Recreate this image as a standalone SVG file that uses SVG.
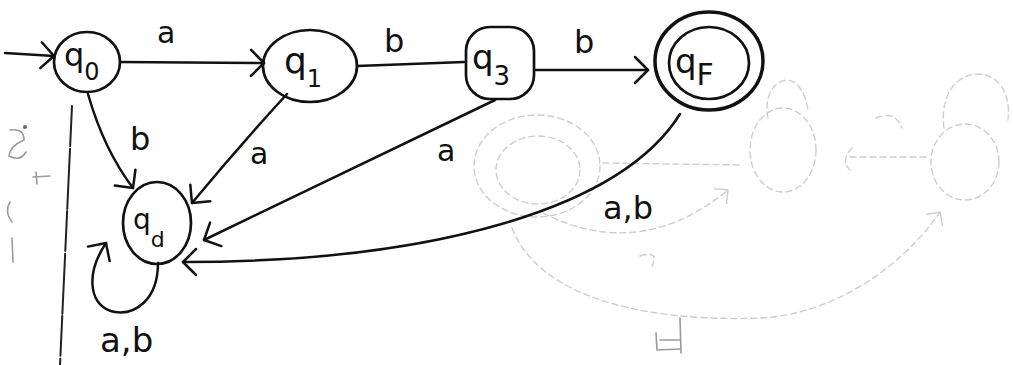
<svg xmlns="http://www.w3.org/2000/svg" width="1013" height="365" viewBox="0 0 1013 365">
<style>
.st{fill:none;stroke:#111;stroke-width:2.7;stroke-linecap:round;stroke-linejoin:round}
.thick{stroke-width:3.5}
.edge{fill:none;stroke:#111;stroke-width:2.5;stroke-linecap:round}
.lbl{font-family:"DejaVu Sans","Liberation Sans",sans-serif;fill:#111}
.ghost{fill:none;stroke:#cdcdcd;stroke-width:1.4;stroke-dasharray:6 4;stroke-linecap:round}
.mark{fill:none;stroke:#9a9a9a;stroke-width:1.6;stroke-linecap:round}
</style>
<defs>
<marker id="v" markerUnits="userSpaceOnUse" markerWidth="30" markerHeight="30" refX="0" refY="0" viewBox="-16 -15 18 30" orient="auto" overflow="visible">
<path d="M-13,-13 L0,0 L-13,13" fill="none" stroke="#111" stroke-width="2.5" stroke-linecap="round" stroke-linejoin="round"/>
</marker>
<marker id="gv" markerUnits="userSpaceOnUse" markerWidth="24" markerHeight="24" refX="0" refY="0" viewBox="-12 -12 14 24" orient="auto" overflow="visible">
<path d="M-10,-10 L0,0 L-10,10" fill="none" stroke="#cdcdcd" stroke-width="1.4"/>
</marker>
</defs>
<rect width="1013" height="365" fill="#ffffff"/>

<!-- faint show-through from the back of the page -->
<g id="ghost">
<ellipse class="ghost" cx="537" cy="166" rx="63" ry="51"/>
<ellipse class="ghost" cx="538" cy="170" rx="42" ry="34"/>
<path class="ghost" d="M543 213 Q 640 262 728 190" marker-end="url(#gv)"/>
<path class="ghost" d="M512 228 C 540 300, 650 322, 760 318 C 830 315, 900 270, 940 212" marker-end="url(#gv)"/>
<path class="ghost" d="M603 163 L 742 165"/>
<ellipse class="ghost" cx="783" cy="150" rx="33" ry="42"/>
<path class="ghost" d="M768 118 C 760 80, 800 60, 808 110"/>
<ellipse class="ghost" cx="965" cy="162" rx="34" ry="38"/>
<path class="ghost" d="M944 128 C 935 60, 1015 55, 1008 120"/>
<path class="ghost" d="M850 157 L 930 157"/>
<path class="ghost" d="M852 148 Q 840 160 850 170"/>
<path class="ghost" d="M876 118 Q 895 110 902 128"/>
<path class="ghost" d="M640 256 Q 660 250 652 266"/>
</g>

<g id="margin">
<path d="M72 106 L 60 365" fill="none" stroke="#222" stroke-width="2" stroke-linecap="round" stroke-dasharray="40 3 60 2"/>
<path class="mark" d="M10 130 Q 24 128 24 140 Q 10 146 9 156 Q 20 162 26 152"/>
<circle cx="25" cy="127" r="2" fill="#666"/>
<path class="mark" d="M33 177 L 50 176 M 36 172 L 37 184"/>
<path class="mark" d="M10 202 Q 4 212 12 222"/>
<path class="mark" d="M12 238 L 13 262"/>
<path class="mark" d="M656 333 L 657 350 L 680 349 M 680 318 L 681 353 M 660 340 L 680 340"/>
</g>

<g id="edges">
<path class="edge" d="M5 53 L 54 56" marker-end="url(#v)"/>
<path class="edge" d="M120 62 L 264 63" marker-end="url(#v)"/>
<path class="edge" d="M357 66 L 464 62"/>
<path class="edge" d="M535 70 L 648 70" marker-end="url(#v)"/>
<path class="edge" d="M88 94 Q 104 150 133 188" marker-end="url(#v)"/>
<path class="edge" d="M287 94 Q 240 145 192 203" marker-end="url(#v)"/>
<path class="edge" d="M495 100 L 204 240" marker-end="url(#v)"/>
<path class="edge" d="M680 114 C 620 210, 430 262, 183 262" marker-end="url(#v)"/>
<path class="edge" d="M158 263 C 158 300, 135 315, 115 312 C 90 308, 84 276, 106 243" marker-end="url(#v)"/>
</g>

<g id="q0">
<ellipse class="st" cx="87" cy="62" rx="33" ry="30"/>
<text class="lbl" x="64" y="66" font-size="32">q<tspan font-size="24" dy="14">0</tspan></text>
</g>
<g id="q1">
<ellipse class="st" cx="310" cy="66" rx="47" ry="36"/>
<text class="lbl" x="284" y="73" font-size="36">q<tspan font-size="24" dy="14">1</tspan></text>
</g>
<g id="q3">
<rect class="st" x="466" y="27" width="68" height="72" rx="24"/>
<text class="lbl" x="472" y="69" font-size="34">q<tspan font-size="26" dy="16">3</tspan></text>
</g>
<g id="qF">
<ellipse class="st thick" cx="709" cy="61" rx="54" ry="49"/>
<ellipse class="st" cx="709" cy="63" rx="40" ry="36"/>
<text class="lbl" x="675" y="73" font-size="34">q<tspan font-size="30" dy="12">F</tspan></text>
</g>
<g id="qd">
<ellipse class="st" cx="157" cy="223" rx="34" ry="41"/>
<text class="lbl" x="133" y="229" font-size="28">q<tspan font-size="22" dy="18">d</tspan></text>
</g>

<g id="labels">
<text class="lbl" x="157" y="43" font-size="30">a</text>
<text class="lbl" x="384" y="52" font-size="32">b</text>
<text class="lbl" x="574" y="53" font-size="32">b</text>
<text class="lbl" x="130" y="150" font-size="32">b</text>
<text class="lbl" x="250" y="164" font-size="30">a</text>
<text class="lbl" x="437" y="161" font-size="30">a</text>
<text class="lbl" x="603" y="219" font-size="32">a,b</text>
<text class="lbl" x="100" y="352" font-size="34">a,b</text>
</g>
</svg>
